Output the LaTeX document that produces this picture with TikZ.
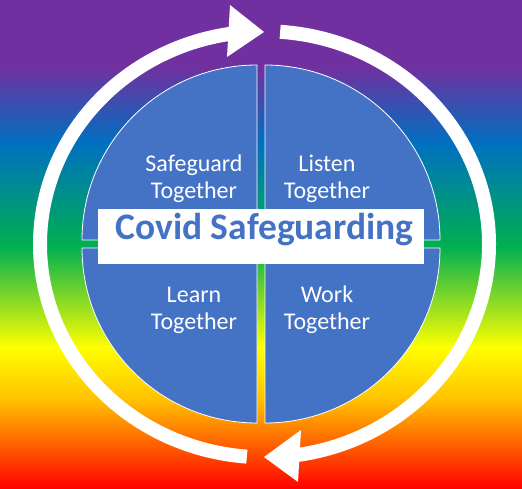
\documentclass[tikz,border=0pt]{standalone}
\usepackage{fontspec}
\setmainfont{Carlito}
\definecolor{cpurple}{HTML}{7030A0}
\definecolor{cblue}{HTML}{0070C0}
\definecolor{cgreen}{HTML}{00B050}
\definecolor{cyellow}{HTML}{FFFF00}
\definecolor{corange}{HTML}{FFC000}
\definecolor{cred}{HTML}{FF0000}
\definecolor{quad}{HTML}{4472C4}
\tikzset{
  quadrant/.style={fill=quad, draw=white, line width=0.8pt},
  quadtext/.style={text=white, font=\fontsize{24}{27}\selectfont, align=center, anchor=base, inner sep=0pt},
  ringarc/.style={draw=white, line width=14pt},
  ringhead/.style={fill=white},
  titlebox/.style={fill=white, minimum width=326pt, minimum height=55pt, inner sep=0pt,
    text=quad, font=\fontsize{37.5}{40}\bfseries\selectfont, text height=0.84em, text depth=0.2em}
}
\begin{document}
\begin{tikzpicture}[x=1pt,y=1pt]
\useasboundingbox (0,0) rectangle (522,489);
% background rainbow
\fill[cpurple] (0,421.5) rectangle (522,489);
\shade[top color=cpurple, bottom color=cblue] (0,345.5) rectangle (522,422);
\shade[top color=cblue, bottom color=cgreen] (0,241.5) rectangle (522,346);
\shade[top color=cgreen, bottom color=cyellow] (0,141.5) rectangle (522,242);
\shade[top color=cyellow, bottom color=corange] (0,88.5) rectangle (522,142);
\shade[top color=corange, bottom color=cred] (0,0) rectangle (522,89);
% quadrants
\draw[quadrant] (257,249) -- ++(-175,0) arc[start angle=180, end angle=90, radius=175] -- cycle;
\draw[quadrant] (265,249) -- ++(175,0) arc[start angle=0, end angle=90, radius=175] -- cycle;
\draw[quadrant] (257,241) -- ++(-175,0) arc[start angle=180, end angle=270, radius=175] -- cycle;
\draw[quadrant] (265,241) -- ++(175,0) arc[start angle=0, end angle=-90, radius=175] -- cycle;
% ring arrows
\coordinate (c) at (264.5,244.7);
\draw[ringarc] ([shift={(265.5:224.5 and 213)}]c) arc[start angle=265.5, end angle=96.3, x radius=224.5, y radius=213];
\draw[ringarc] ([shift={(86:224.5 and 213)}]c) arc[start angle=86, end angle=-84, x radius=224.5, y radius=213];
\coordinate (h1a) at (230,484);
\coordinate (h1t) at (264,457);
\coordinate (h1b) at (227,432);
\coordinate (h2a) at (301,59);
\coordinate (h2t) at (264,32);
\coordinate (h2b) at (298,7);
\fill[ringhead] (h1a) -- (h1t) -- (h1b) -- cycle;
\fill[ringhead] (h2a) -- (h2t) -- (h2b) -- cycle;
% texts
\node[quadtext] (sg) at (194,290) {Safeguard\\Together};
\node[quadtext] (lt) at (327,290) {Listen\\Together};
\node[quadtext] (le) at (194,159) {Learn\\Together};
\node[quadtext] (wt) at (327,159) {Work\\Together};
\node[titlebox] (title) at (261,252.5) {\hspace*{7pt}Covid Safeguarding};
\end{tikzpicture}
\end{document}
